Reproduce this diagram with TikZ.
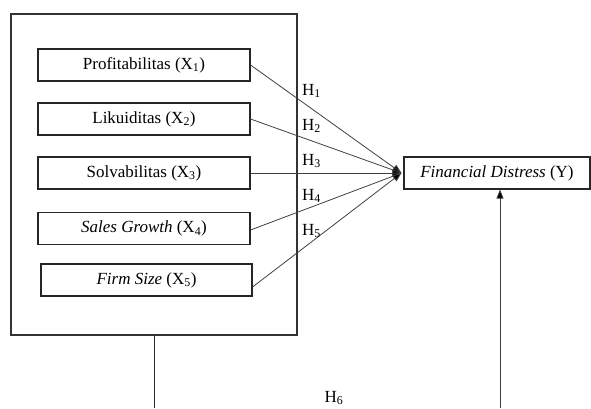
\documentclass[tikz,border=0pt]{standalone}
\usepackage{fontspec}
\setmainfont{Liberation Serif}
\usetikzlibrary{arrows.meta,positioning}

\begin{document}
\begin{tikzpicture}[x=1pt,y=-1pt,
  font=\fontsize{17}{20}\selectfont,
  varbox/.style={draw=black!85,line width=1.1pt,minimum width=212pt,
    minimum height=32pt,inner sep=0pt},
  link/.style={draw=black!75,line width=0.8pt},
  tipped/.style={-{Triangle[length=9pt,width=7pt,fill=black]}},
  hlabel/.style={anchor=west,inner sep=0pt}]

  \useasboundingbox (0,0) rectangle (591,408);

  % --- Outer frame round the independent variables ---
  \node[draw=black!80,line width=1.1pt,minimum width=286pt,
    minimum height=321pt,inner sep=0pt] (frame) at (154,174.5) {};

  % --- Independent variables ---
  \node[varbox] (prof) at (144,65) {Profitabilitas (X\textsubscript{1})};
  \node[varbox] (liq)  at (144,119) {Likuiditas (X\textsubscript{2})};
  \node[varbox] (solv) at (144,173) {Solvabilitas (X\textsubscript{3})};
  \node[varbox] (grow) at (144,228.5) {\textit{Sales Growth} (X\textsubscript{4})};
  \node[varbox,minimum width=211pt] (size) at (146.5,280)
    {\textit{Firm Size} (X\textsubscript{5})};

  % --- Dependent variable ---
  \node[varbox,minimum width=186pt] (fd) at (497,173)
    {\textit{Financial Distress} (Y)};

  % --- Hypotheses H1 to H5 ---
  \coordinate (tip) at ([xshift=-2pt]fd.west);
  \foreach \v in {prof,liq,solv}
    \draw[link,tipped] (\v.east) -- (tip);
  \draw[link,tipped] ([yshift=-1.5pt]grow.east) -- (tip);
  \draw[link,tipped] ([yshift=-7pt]size.east) -- (tip);

  \foreach \i/\y in {1/91,2/126,3/161,4/196,5/231}
    \node[hlabel] (h\i) at (302,\y) {H\textsubscript{\i}};

  % --- Hypothesis H6 ---
  \coordinate (bl) at (154,408);
  \coordinate (br) at (500,408);
  \draw[link,black!85,line width=1pt] (frame.south) -- (bl);
  \draw[link,tipped] (br) -- (br |- fd.south);
  \node[inner sep=0pt] (h6) at (334,398) {H\textsubscript{6}};

\end{tikzpicture}
\end{document}
